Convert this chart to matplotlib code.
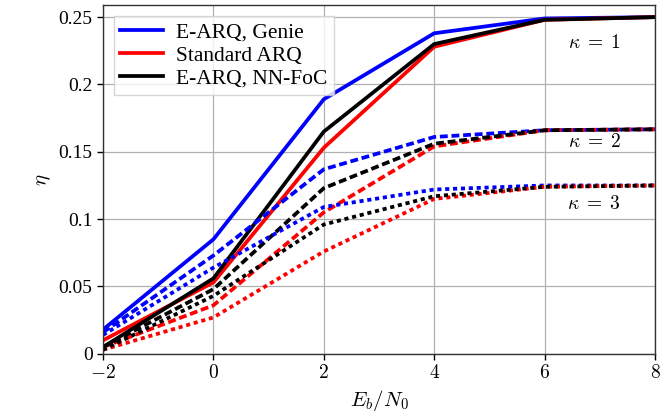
import numpy as np
import matplotlib
matplotlib.use("Agg")
import matplotlib.pyplot as plt

plt.rcParams['font.family'] = ['Liberation Serif', 'DejaVu Serif']
plt.rcParams['mathtext.fontset'] = 'cm'

ebn0 = [-2, 0, 2, 4, 6, 8]

# kappa = 1 (solid)
genie_k1 = [0.018, 0.085, 0.189, 0.238, 0.249, 0.250]
std_k1 = [0.010, 0.053, 0.153, 0.228, 0.248, 0.250]
nn_k1 = [0.005, 0.056, 0.165, 0.230, 0.248, 0.250]

# kappa = 2 (dashed)
genie_k2 = [0.016, 0.073, 0.137, 0.161, 0.166, 0.1667]
std_k2 = [0.005, 0.036, 0.105, 0.154, 0.166, 0.1667]
nn_k2 = [0.005, 0.048, 0.123, 0.156, 0.166, 0.1667]

# kappa = 3 (dotted)
genie_k3 = [0.014, 0.064, 0.109, 0.122, 0.125, 0.125]
std_k3 = [0.003, 0.027, 0.076, 0.115, 0.124, 0.125]
nn_k3 = [0.003, 0.043, 0.096, 0.117, 0.124, 0.125]

yticks = [0, 0.05, 0.1, 0.15, 0.2, 0.25]
ytick_labels = ["0", "0.05", "0.1", "0.15", "0.2", "0.25"]
xticks = [-2, 0, 2, 4, 6, 8]

fig = plt.figure(figsize=(6.72, 4.2), dpi=100)
ax = fig.add_axes([0.1533, 0.1576, 0.8214, 0.8305])

lw = 2.7
dashed = (0, (2.1, 1.0))
dotted = (0, (1.1, 1.0))

ax.plot(ebn0, genie_k1, color='#0000ff', lw=lw, label='E-ARQ, Genie')
ax.plot(ebn0, std_k1, color='#ff0000', lw=lw, label='Standard ARQ')
ax.plot(ebn0, nn_k1, color='black', lw=lw, label='E-ARQ, NN-FoC')

ax.plot(ebn0, genie_k2, color='#0000ff', lw=lw, ls=dashed)
ax.plot(ebn0, std_k2, color='#ff0000', lw=lw, ls=dashed)
ax.plot(ebn0, nn_k2, color='black', lw=lw, ls=dashed)

ax.plot(ebn0, genie_k3, color='#0000ff', lw=lw, ls=dotted)
ax.plot(ebn0, std_k3, color='#ff0000', lw=lw, ls=dotted)
ax.plot(ebn0, nn_k3, color='black', lw=lw, ls=dotted)

ax.text(6.9, 0.231, r'$\kappa\;=\;1$', fontsize=14, ha='center', va='center')
ax.text(6.9, 0.157, r'$\kappa\;=\;2$', fontsize=14, ha='center', va='center')
ax.text(6.9, 0.111, r'$\kappa\;=\;3$', fontsize=14, ha='center', va='center')

ax.set_xlim(-2, 8)
ax.set_ylim(0, 0.259)
ax.set_xticks(xticks)
ax.set_xticklabels([r'$%d$' % v if v >= 0 else r'$-%d$' % (-v) for v in xticks])
ax.set_yticks(yticks)
ax.set_yticklabels(ytick_labels)
ax.tick_params(labelsize=14, direction='out', length=4, width=1)
ax.grid(True, color='#b0b0b0', lw=0.9)
ax.set_axisbelow(True)
for s in ax.spines.values():
    s.set_linewidth(1.0)
    s.set_color('#333333')

ax.set_xlabel(r'$E_b/N_0$', fontsize=15)
ax.set_ylabel(r'$\eta$', fontsize=15)

leg = ax.legend(loc='upper left', fontsize=15.5, frameon=True, fancybox=False,
                handlelength=2.0, borderpad=0.3, labelspacing=0.15,
                handletextpad=0.6, borderaxespad=0.5)
leg.get_frame().set_edgecolor('#cccccc')
leg.get_frame().set_linewidth(1.0)

fig.savefig('out.png', dpi=100)
